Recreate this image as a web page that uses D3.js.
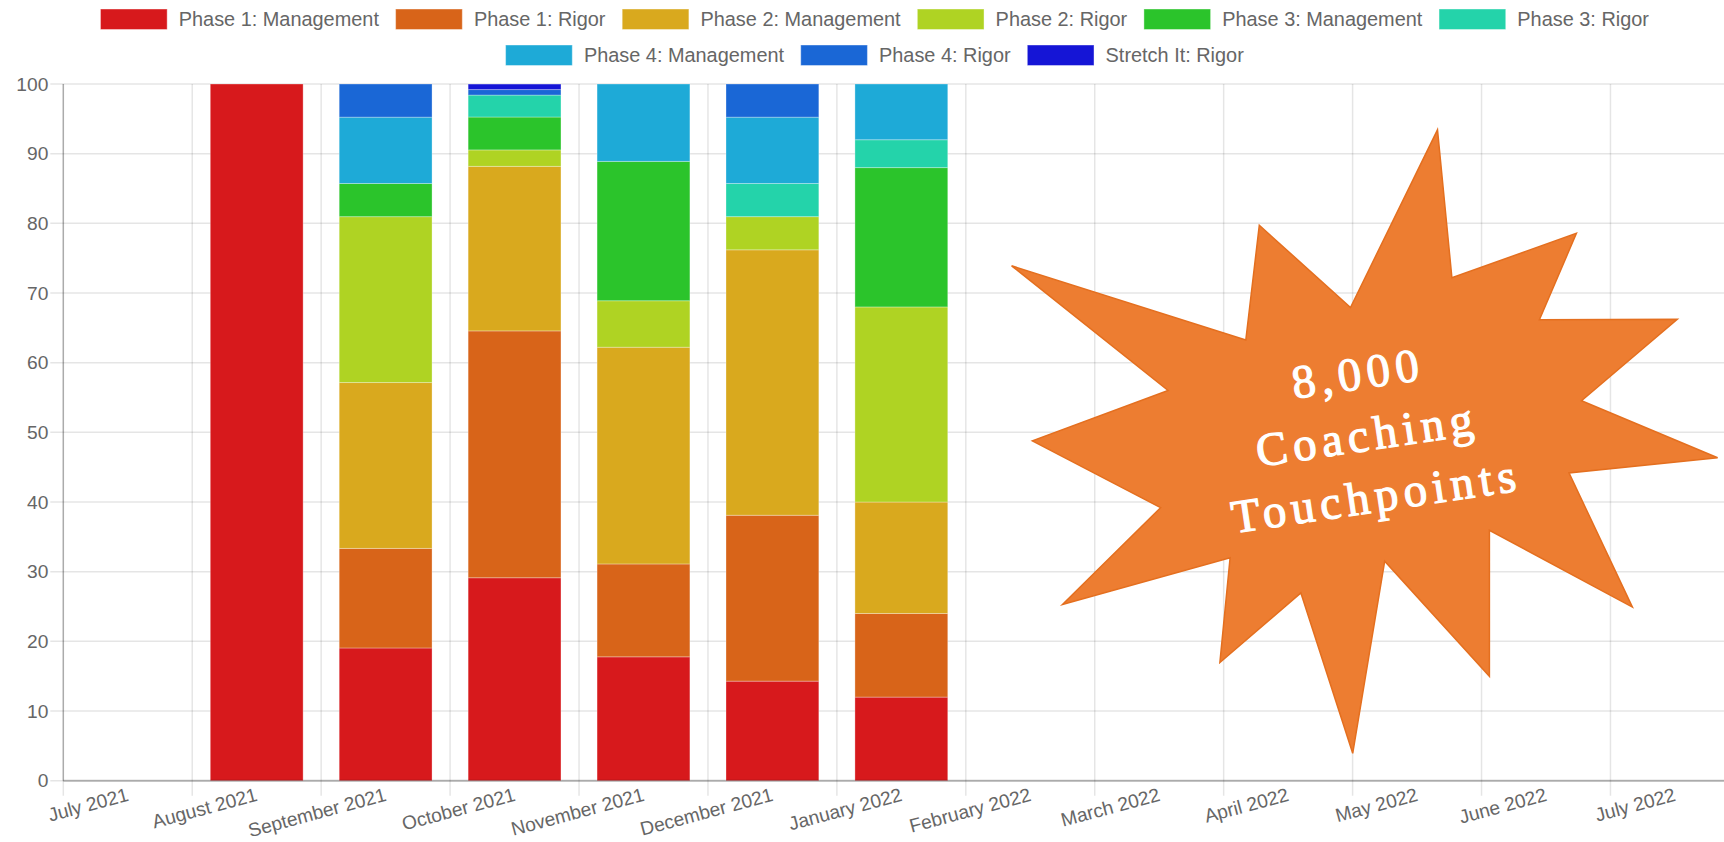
<!DOCTYPE html>
<html lang="en">
<head>
    <meta charset="UTF-8">
    <title>Coaching touchpoints</title>
    <script src="https://cdn.jsdelivr.net/npm/d3@7"></script>
    <style>
        html, body { margin: 0; padding: 0; background: #fff; overflow: hidden; }
    </style>
</head>
<body>
    <div id="chart"></div>
    <script>
        // month categories on the x axis
        const months = ["July 2021", "August 2021", "September 2021", "October 2021", "November 2021",
            "December 2021", "January 2022", "February 2022", "March 2022", "April 2022",
            "May 2022", "June 2022", "July 2022"];

        const seriesNames = ["Phase 1: Management", "Phase 1: Rigor", "Phase 2: Management", "Phase 2: Rigor",
            "Phase 3: Management", "Phase 3: Rigor", "Phase 4: Management", "Phase 4: Rigor", "Stretch It: Rigor"];

        // share of touchpoints (%) per month, one array per series
        const p1Management = [0, 100, 19.05, 29.13, 17.78, 14.29, 12, 0, 0, 0, 0, 0, 0];
        const p1Rigor      = [0, 0, 14.29, 35.43, 13.33, 23.81, 12, 0, 0, 0, 0, 0, 0];
        const p2Management = [0, 0, 23.81, 23.62, 31.11, 38.10, 16, 0, 0, 0, 0, 0, 0];
        const p2Rigor      = [0, 0, 23.81, 2.36, 6.67, 4.76, 28, 0, 0, 0, 0, 0, 0];
        const p3Management = [0, 0, 4.76, 4.72, 20.00, 0, 20, 0, 0, 0, 0, 0, 0];
        const p3Rigor      = [0, 0, 0, 3.15, 0, 4.76, 4, 0, 0, 0, 0, 0, 0];
        const p4Management = [0, 0, 9.52, 0, 11.11, 9.52, 8, 0, 0, 0, 0, 0, 0];
        const p4Rigor      = [0, 0, 4.76, 0.79, 0, 4.76, 0, 0, 0, 0, 0, 0, 0];
        const stretchRigor = [0, 0, 0, 0.79, 0, 0, 0, 0, 0, 0, 0, 0, 0];

        const yTicks = [0, 10, 20, 30, 40, 50, 60, 70, 80, 90, 100];

        const burstLines = ["8,000", "Coaching", "Touchpoints"];

        const seriesValues = [p1Management, p1Rigor, p2Management, p2Rigor, p3Management,
            p3Rigor, p4Management, p4Rigor, stretchRigor];
        const colors = ["#d7191c", "#d86419", "#d9a91e", "#afd323", "#2bc42b",
            "#24d3aa", "#1eaad7", "#1a67d6", "#1515d6"];

        const W = 1724, H = 842;
        const plotLeft = 63.3, plotTop = 84, plotBottom = 780.7;
        const step = 128.93;
        const plotRight = plotLeft + months.length * step;   // canvas was cropped, plot runs past the edge
        const fontSans = "'Liberation Sans', Arial, sans-serif";
        const grey = "#666";
        const gridColor = "rgba(0,0,0,0.1)";

        const svg = d3.select("#chart").append("svg")
            .attr("width", W)
            .attr("height", H)
            .style("display", "block");

        // table built from the series arrays
        const table = months.map((m, i) => {
            const row = { month: m };
            seriesNames.forEach((s, j) => row[s] = seriesValues[j][i]);
            return row;
        });
        const stacked = d3.stack().keys(seriesNames)(table);

        const xg = d3.scaleBand().domain(months).range([plotLeft, plotRight]);
        const x = d3.scaleBand().domain(months).range([plotLeft, plotRight])
            .paddingInner(0.28).paddingOuter(0.14);
        const y = d3.scaleLinear().domain([0, 100]).range([plotBottom, plotTop]);

        // grid
        const grid = svg.append("g");
        grid.selectAll(".vg")
            .data(months.concat(["end"]))
            .join("line")
            .attr("x1", (d, i) => plotLeft + i * xg.step())
            .attr("x2", (d, i) => plotLeft + i * xg.step())
            .attr("y1", plotTop)
            .attr("y2", plotBottom + 15)
            .attr("stroke", gridColor)
            .attr("stroke-width", 1.5);
        grid.selectAll(".hg")
            .data(yTicks)
            .join("line")
            .attr("x1", plotLeft - 13)
            .attr("x2", W)
            .attr("y1", d => y(d))
            .attr("y2", d => y(d))
            .attr("stroke", gridColor)
            .attr("stroke-width", 1.5);

        // y axis labels
        const yAxis = svg.append("g")
            .attr("transform", `translate(${plotLeft},0)`)
            .call(d3.axisLeft(y).tickValues(yTicks).tickSize(0).tickPadding(15));
        yAxis.select(".domain").remove();
        yAxis.selectAll("text")
            .attr("fill", grey)
            .style("font-family", fontSans)
            .style("font-size", "19.2px");

        // bars
        svg.append("g")
            .selectAll("g")
            .data(stacked)
            .join("g")
            .attr("fill", (d, i) => colors[i])
            .selectAll("rect")
            .data(d => d.filter(p => p[1] - p[0] > 0))
            .join("rect")
            .attr("x", d => x(d.data.month))
            .attr("width", x.bandwidth())
            .attr("y", d => y(d[1]))
            .attr("height", d => y(d[0]) - y(d[1]))
            .attr("stroke", "rgba(255,255,255,0.3)")
            .attr("stroke-width", 1);

        // axis lines
        svg.append("line")
            .attr("x1", plotLeft).attr("x2", plotLeft)
            .attr("y1", plotTop).attr("y2", plotBottom)
            .attr("stroke", "rgba(0,0,0,0.25)").attr("stroke-width", 1.5);
        svg.append("line")
            .attr("x1", plotLeft).attr("x2", W)
            .attr("y1", plotBottom).attr("y2", plotBottom)
            .attr("stroke", "rgba(0,0,0,0.25)").attr("stroke-width", 2);

        // x labels, rotated and anchored at category centre
        svg.append("g")
            .selectAll("text")
            .data(months)
            .join("text")
            .attr("transform", d => `translate(${xg(d) + xg.bandwidth() / 2},794) rotate(-15)`)
            .attr("text-anchor", "end")
            .attr("dy", "0.35em")
            .attr("fill", grey)
            .style("font-family", fontSans)
            .style("font-size", "19.2px")
            .text(d => d);

        // legend
        const boxW = 66.7, boxH = 20.5, boxGap = 11.6, itemGap = 16.7;
        const legend = svg.append("g");
        const items = legend.selectAll("g")
            .data(seriesNames)
            .join("g");
        items.append("rect")
            .attr("width", boxW)
            .attr("height", boxH)
            .attr("fill", (d, i) => colors[i])
            .attr("stroke", "rgba(255,255,255,0.4)");
        items.append("text")
            .attr("x", boxW + boxGap)
            .attr("y", boxH / 2)
            .attr("dy", "0.35em")
            .attr("fill", grey)
            .style("font-family", fontSans)
            .style("font-size", "19.9px")
            .text(d => d);
        const widths = [];
        items.each(function () {
            widths.push(boxW + boxGap + d3.select(this).select("text").node().getComputedTextLength());
        });
        const legendWidth = plotRight + 10;
        const rows = [[]];
        let run = 0;
        widths.forEach((w, i) => {
            if (run > 0 && run + w + itemGap > legendWidth) { rows.push([]); run = 0; }
            rows[rows.length - 1].push(i);
            run += w + itemGap;
        });
        const rowTops = [9, 45];
        rows.forEach((row, r) => {
            const total = d3.sum(row, i => widths[i]) + itemGap * (row.length - 1);
            let cx = legendWidth / 2 - total / 2;
            row.forEach(i => {
                d3.select(items.nodes()[i]).attr("transform", `translate(${cx},${rowTops[r]})`);
                cx += widths[i] + itemGap;
            });
        });

        // starburst call-out placed over the chart
        const burst = [[1437.5, 129.8], [1451.9, 277.7], [1576.4, 233.4], [1539.4, 319.7], [1677.3, 319.3],
            [1581.5, 400.7], [1717.6, 457.7], [1569.0, 472.9], [1632.4, 607.1], [1489.4, 530.3],
            [1489.4, 676.2], [1384.7, 561.2], [1352.7, 753.3], [1300.9, 592.9], [1219.9, 662.5],
            [1230.1, 557.8], [1062.5, 604.4], [1160.6, 507.7], [1032.4, 440.8], [1168.1, 390.4],
            [1011.6, 265.8], [1245.8, 340.0], [1259.3, 225.3], [1350.5, 307.5]];
        svg.append("polygon")
            .attr("points", burst.map(p => p.join(",")).join(" "))
            .attr("fill", "#ed7d31")
            .attr("stroke", "#e46f1f")
            .attr("stroke-width", 1.5);
        svg.append("g")
            .attr("transform", "translate(1367,434) rotate(-8.5)")
            .selectAll("text")
            .data(burstLines)
            .join("text")
            .attr("y", (d, i) => (i - 1) * 62)
            .attr("dy", "0.35em")
            .attr("text-anchor", "middle")
            .attr("fill", "#fff")
            .attr("stroke", "#fff")
            .attr("stroke-width", 1.2)
            .style("font-family", "'Liberation Serif', 'DejaVu Serif', serif")
            .style("font-size", "47px")
            .style("letter-spacing", "5.5px")
            .text(d => d);
    </script>
</body>
</html>
